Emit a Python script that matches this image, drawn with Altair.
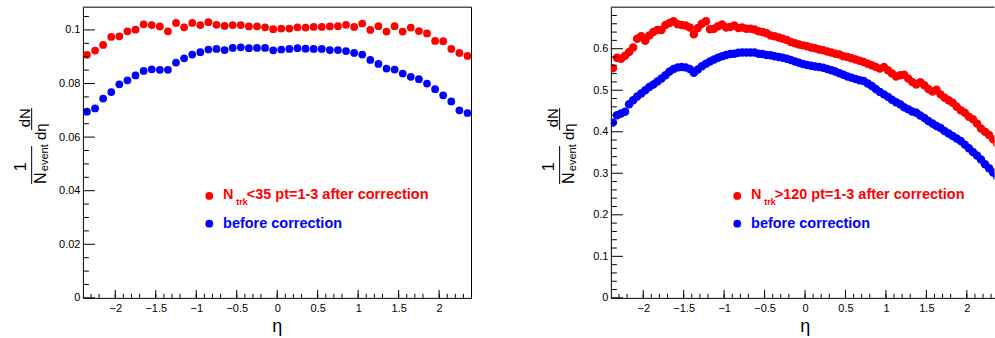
import altair as alt
import pandas as pd

FONT = "Liberation Sans"
RED = "#ff0000"
BLUE = "#0000ff"

# ---------------- data ----------------
eta_left = [round(-2.35 + 0.1 * i, 2) for i in range(48)]
after_left = [
    0.0907, 0.0923, 0.0944, 0.0974, 0.0976, 0.0995, 0.1001, 0.1021, 0.1018, 0.1013,
    0.0995, 0.1026, 0.1010, 0.1026, 0.1018, 0.1029, 0.1019, 0.1015, 0.1018, 0.1018,
    0.1013, 0.1013, 0.1010, 0.1003,
    0.1005, 0.1005, 0.1010, 0.1009, 0.1011, 0.1011, 0.1013, 0.1014, 0.1019, 0.1011,
    0.1024, 0.1000, 0.1014, 0.0994, 0.1014, 0.0994, 0.1009, 0.0996, 0.0987, 0.0959,
    0.0958, 0.0929, 0.0914, 0.0903,
]
before_left = [
    0.0695, 0.0707, 0.0744, 0.0768, 0.0797, 0.0812, 0.0830, 0.0847, 0.0853, 0.0851,
    0.0851, 0.0878, 0.0894, 0.0908, 0.0917, 0.0927, 0.0929, 0.0925, 0.0933, 0.0935,
    0.0932, 0.0933, 0.0933, 0.0924,
    0.0927, 0.0929, 0.0932, 0.0930, 0.0929, 0.0929, 0.0925, 0.0925, 0.0921, 0.0914,
    0.0908, 0.0888, 0.0873, 0.0856, 0.0852, 0.0837, 0.0825, 0.0816, 0.0800, 0.0779,
    0.0756, 0.0733, 0.0700, 0.0690,
]

eta_right = [round(-2.375 + 0.05 * i, 3) for i in range(96)]
after_right = [
    0.553, 0.578, 0.576, 0.583, 0.592, 0.603, 0.624, 0.630, 0.619, 0.632,
    0.640, 0.645, 0.645, 0.657, 0.662, 0.666, 0.659, 0.657, 0.656, 0.651,
    0.635, 0.650, 0.660, 0.666, 0.647, 0.648, 0.654, 0.658, 0.651, 0.652,
    0.656, 0.650, 0.651, 0.648, 0.648, 0.646, 0.642, 0.640, 0.637, 0.632,
    0.630, 0.627, 0.624, 0.621, 0.616, 0.613, 0.610, 0.608, 0.606, 0.603,
    0.601, 0.598, 0.596, 0.593, 0.591, 0.588, 0.586, 0.582, 0.580, 0.577,
    0.574, 0.571, 0.568, 0.564, 0.560, 0.556, 0.552, 0.556, 0.548, 0.540,
    0.533, 0.536, 0.537, 0.528, 0.520, 0.514, 0.519, 0.512, 0.503, 0.497,
    0.501, 0.490, 0.482, 0.476, 0.470, 0.460, 0.452, 0.446, 0.436, 0.430,
    0.420, 0.408, 0.400, 0.392, 0.382, 0.372,
]
before_right = [
    0.422, 0.440, 0.444, 0.448, 0.466, 0.476, 0.485, 0.492, 0.500, 0.508,
    0.514, 0.521, 0.528, 0.536, 0.545, 0.551, 0.555, 0.556, 0.555, 0.551,
    0.542, 0.550, 0.558, 0.564, 0.569, 0.574, 0.578, 0.582, 0.585, 0.587,
    0.588, 0.590, 0.591, 0.591, 0.591, 0.591, 0.588, 0.587, 0.585, 0.584,
    0.582, 0.580, 0.578, 0.576, 0.573, 0.569, 0.566, 0.563, 0.561, 0.559,
    0.557, 0.556, 0.554, 0.551, 0.548, 0.545, 0.541, 0.537, 0.533, 0.530,
    0.527, 0.524, 0.522, 0.516, 0.510, 0.503, 0.496, 0.490, 0.484, 0.477,
    0.471, 0.466, 0.459, 0.454, 0.449, 0.446, 0.439, 0.433, 0.426, 0.420,
    0.414, 0.409, 0.402, 0.396, 0.390, 0.384, 0.378, 0.369, 0.360, 0.351,
    0.343, 0.333, 0.322, 0.312, 0.302, 0.292,
]

x_major = [-2, -1.5, -1, -0.5, 0, 0.5, 1, 1.5, 2]
x_minor = [round(-2.3 + 0.1 * i, 1) for i in range(47) if (i + 3) % 5 != 0]
y_major_left = [0, 0.02, 0.04, 0.06, 0.08, 0.1]
y_minor_left = [round(0.005 * i, 3) for i in range(22) if i % 4 != 0]
y_major_right = [0, 0.1, 0.2, 0.3, 0.4, 0.5, 0.6]
y_minor_right = [round(0.02 * i, 2) for i in range(35) if i % 5 != 0]

legend_left = "<35 pt=1-3 after correction"
legend_right = ">120 pt=1-3 after correction"
legend_before = "before correction"

H = 291
one = pd.DataFrame({"k": [0]})


def txt(s, x, y, size, color="black", bold=False, angle=0, align="center", baseline="middle"):
    kw = dict(text=s, font=FONT, fontSize=size, color=color, align=align,
              baseline=baseline, fontWeight="bold" if bold else "normal")
    if angle:
        kw["angle"] = angle
    return alt.Chart(one).mark_text(**kw).encode(x=alt.value(x), y=alt.value(y))


def line(x, y, x2=None, y2=None, color="black", width=1):
    enc = dict(x=alt.value(x), y=alt.value(y))
    if x2 is not None:
        enc["x2"] = alt.value(x2)
    if y2 is not None:
        enc["y2"] = alt.value(y2)
    return alt.Chart(one).mark_rule(color=color, strokeWidth=width).encode(**enc)


def panel(eta, after, before, W, xdom, ydom, ymaj, ymin, leg_text, clip, right_frame, anchor, msize):
    xs = alt.Scale(domain=xdom, nice=False, zero=False)
    ys = alt.Scale(domain=ydom, nice=False, zero=False)
    n = len(eta)
    df = pd.DataFrame({"eta": eta + eta, "val": before + after,
                       "series": ["before"] * n + ["after"] * n})
    common = dict(ticks=False, tickSize=0, domain=True, domainColor="black", domainWidth=1,
                  labelFont=FONT, labelFontSize=11, labelColor="black", grid=False,
                  title=None, format="~g", labelOverlap=False, labelFlush=False)
    xaxis = alt.Axis(values=x_major, labelPadding=5, **common)
    yaxis = alt.Axis(values=ymaj, labelPadding=3, **common)
    pts = alt.Chart(df).mark_circle(size=msize, opacity=1, clip=clip).encode(
        x=alt.X("eta:Q", scale=xs, axis=xaxis),
        y=alt.Y("val:Q", scale=ys, axis=yaxis),
        color=alt.Color("series:N", scale=alt.Scale(domain=["after", "before"], range=[RED, BLUE]), legend=None),
    )

    def xt(vals, length):
        return alt.Chart(pd.DataFrame({"eta": vals})).mark_rule(color="black", strokeWidth=1).encode(
            x=alt.X("eta:Q", scale=xs, axis=xaxis), y=alt.value(H), y2=alt.value(H - length))

    def yt(vals, length):
        return alt.Chart(pd.DataFrame({"val": vals})).mark_rule(color="black", strokeWidth=1).encode(
            y=alt.Y("val:Q", scale=ys, axis=yaxis), x=alt.value(0), x2=alt.value(length))

    layers = [pts, xt(x_major, 8), xt(x_minor, 4), yt(ymaj, 12), yt(ymin, 6)]
    # frame
    layers.append(line(0, 0, x2=W))
    if right_frame:
        layers.append(line(W, 0, y2=H))
    # y title: (1 / N_event) (dN / d eta)
    layers += [
        txt("1", -62, 159.7, 16, angle=270),
        line(-51.3, 139, y2=177),
        txt("N", -42.3, 171.3, 16, angle=270),
        txt("event", -37.5, 150.7, 11, angle=270),
        txt("dN", -58, 110.7, 15, angle=270),
        line(-51.3, 101, y2=123),
        txt("dη", -42.3, 124.7, 15, angle=270),
    ]
    # x title
    layers.append(txt("η", W_L / 2, 325, 18, baseline="alphabetic"))
    # legend
    layers += [
        alt.Chart(one).mark_circle(size=60, opacity=1, color=RED).encode(x=alt.value(126.5), y=alt.value(189)),
        txt("N", 140.3, 188.3, 14.5, color=RED, bold=True, align="left"),
        txt("trk", 153.5, 195.5, 9, color=RED, bold=True, align="left"),
        txt(leg_text, 164, 188.3, 14.5, color=RED, bold=True, align="left"),
        alt.Chart(one).mark_circle(size=60, opacity=1, color=BLUE).encode(x=alt.value(126.5), y=alt.value(216.7)),
        txt(legend_before, 140.3, 217.3, 14.5, color=BLUE, bold=True, align="left"),
    ]
    if anchor:
        layers.append(line(-82, 0, y2=1, color="white"))
    return alt.layer(*layers).properties(width=W, height=H)


W_L, W_R = 389, 384
left = panel(eta_left, after_left, before_left, W_L, [-2.4, 2.4], [0, 0.1085],
             y_major_left, y_minor_left, legend_left, False, True, True, 60)
right = panel(eta_right, after_right, before_right, W_R, [-2.4, 2.342], [0, 0.70],
              y_major_right, y_minor_right, legend_right, True, False, False, 72)

chart = alt.hconcat(left, right, spacing=139.5, bounds="flush").properties(
    padding={"left": 0, "top": 6, "right": 0, "bottom": 0}
).configure(background="white").configure_view(stroke=None)

chart.save("out.html", embed_options={"renderer": "svg", "actions": False})
